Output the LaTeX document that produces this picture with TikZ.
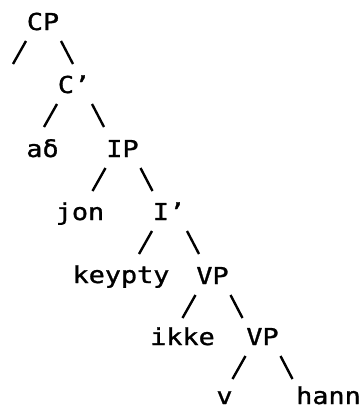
\documentclass[tikz,border=0pt]{standalone}
\usepackage{fontspec}
\usetikzlibrary{calc}
\newfontfamily\treefont[FakeStretch=1.15,FakeBold=1.2]{DejaVu Sans Mono}

\tikzset{
	word/.style={anchor=base,inner sep=0pt,font=\treefont\fontsize{23.3}{28}\selectfont},
	lbranch/.style={line width=2.4pt,to path={($(\tikztostart.base)+(-17,11)$) -- ($(\tikztostart.base)+(-30,34)$)}},
	rbranch/.style={line width=2.4pt,to path={($(\tikztostart.base)+(18,11)$) -- ($(\tikztostart.base)+(30,34)$)}}
}

\begin{document}
\begin{tikzpicture}[x=1pt,y=-1pt]
	\useasboundingbox (0,0) rectangle (362,410);

	\node[word] (CP)     at (43,30)    {CP};
	\node[word] (Cbar)   at (74,93)    {C’};
	\node[word] (adh)    at (42.5,157) {aδ};
	\node[word] (IP)     at (122.5,157) {IP};
	\node[word] (jon)    at (80,220)   {jon};
	\node[word] (Ibar)   at (169,220)  {I’};
	\node[word] (keypty) at (121,283)  {keypty};
	\node[word] (VPa)    at (212.5,284) {VP};
	\node[word] (ikke)   at (182.5,345) {ikke};
	\node[word] (VPb)    at (262.5,345) {VP};
	\node[word] (v)      at (224.5,404) {v};
	\node[word] (hann)   at (328.5,404) {hann};
	\coordinate (cpspec) at (12,63);

	\draw[lbranch] (CP) to (cpspec);
	\draw[rbranch] (CP) to (Cbar);
	\draw[lbranch] (Cbar) to (adh);
	\draw[rbranch] (Cbar) to (IP);
	\draw[lbranch] (IP) to (jon);
	\draw[rbranch] (IP) to (Ibar);
	\draw[lbranch] (Ibar) to (keypty);
	\draw[rbranch] (Ibar) to (VPa);
	\draw[lbranch] (VPa) to (ikke);
	\draw[rbranch] (VPa) to (VPb);
	\draw[lbranch] (VPb) to (v);
	\draw[rbranch] (VPb) to (hann);
\end{tikzpicture}
\end{document}
